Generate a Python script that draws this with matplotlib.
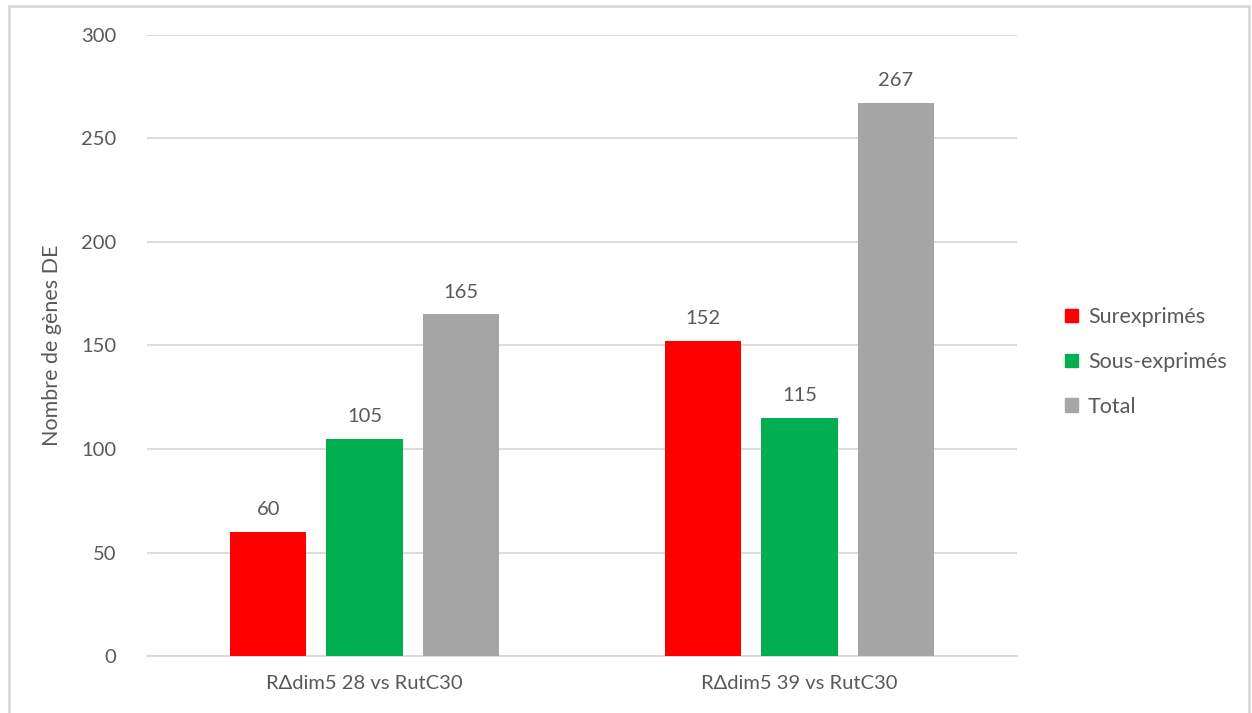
import numpy as np
import matplotlib
matplotlib.use('Agg')
import matplotlib.pyplot as plt
from matplotlib.patches import Rectangle, Patch

plt.rcParams['font.family'] = ['Lato', 'DejaVu Sans']

categories = ['RΔdim5 28 vs RutC30', 'RΔdim5 39 vs RutC30']
series_names = ['Surexprimés', 'Sous-exprimés', 'Total']
surexprimes = [60, 152]
sous_exprimes = [105, 115]
total = [165, 267]
colors = ['#FF0000', '#00B050', '#A5A5A5']

TXT = '#595959'
GRID = '#D9D9D9'

fig = plt.figure(figsize=(12.52, 7.13), dpi=100)
ax = fig.add_axes([147 / 1252, 1 - 656 / 713, 870 / 1252, 621 / 713])

x = np.arange(len(categories))
width = 0.175
step = 0.221
for i, (vals, name, c) in enumerate(zip([surexprimes, sous_exprimes, total], series_names, colors)):
    bars = ax.bar(x + (i - 1) * step, vals, width, color=c, label=name, zorder=3)
    for b, v in zip(bars, vals):
        ax.annotate(f'{v}', (b.get_x() + b.get_width() / 2, v), xytext=(0, 10),
                    textcoords='offset points', ha='center', va='bottom',
                    fontsize=14.5, color=TXT)

ax.set_xlim(-0.5, 1.5)
ax.set_ylim(0, 300)
ax.set_yticks(range(0, 301, 50))
ax.set_xticks(x)
ax.set_xticklabels(categories)
ax.tick_params(axis='both', length=0, labelsize=14.5, labelcolor=TXT)
ax.tick_params(axis='y', pad=22)
ax.tick_params(axis='x', pad=14)
ax.grid(axis='y', color=GRID, linewidth=1.3, zorder=0)
for s in ['top', 'right', 'left']:
    ax.spines[s].set_visible(False)
ax.spines['bottom'].set_color(GRID)
ax.spines['bottom'].set_linewidth(1.3)
ax.set_ylabel('Nombre de gènes DE', fontsize=15.5, color=TXT, labelpad=14)

handles = [Patch(color=c, label=n) for c, n in zip(colors, series_names)]
fig.legend(handles=handles, loc='center left', bbox_to_anchor=(1046 / 1252, 1 - 362 / 713),
           frameon=False, fontsize=15.5, labelcolor=TXT, handlelength=0.6, handleheight=0.6,
           handletextpad=0.45, labelspacing=1.15)

# light frame around the chart
fig.patches.append(Rectangle((9 / 1252, -0.01), 1240 / 1252, 1 - 6 / 713 + 0.01,
                             transform=fig.transFigure, fill=False,
                             edgecolor='#D9D9D9', linewidth=2))

fig.savefig('out.png', dpi=100)
